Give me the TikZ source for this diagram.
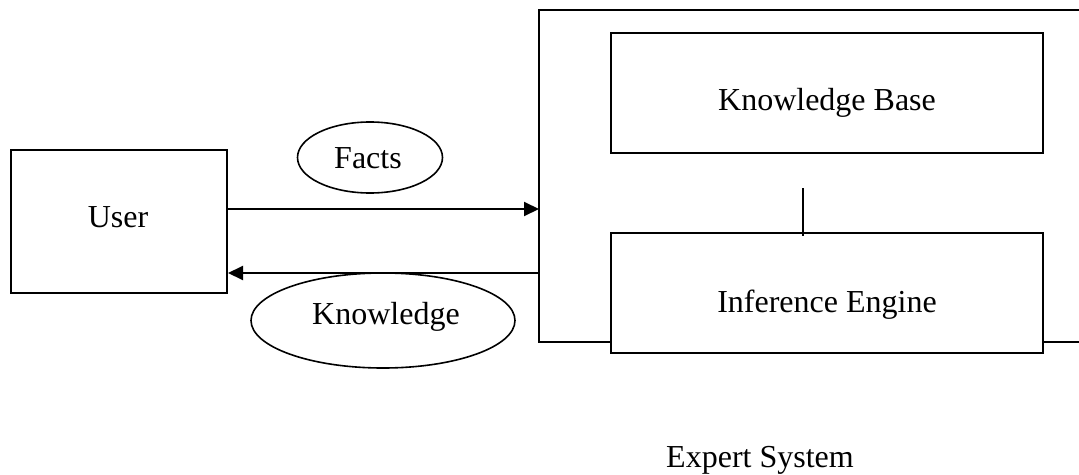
\documentclass[tikz,border=0pt]{standalone}
\usepackage{fontspec}
\setmainfont{Liberation Serif}
\usetikzlibrary{shapes.geometric,arrows.meta}
\begin{document}
\begin{tikzpicture}[x=1pt,y=-1pt,
  box/.style={draw,line width=2pt,rectangle,inner sep=0pt},
  oval/.style={draw,line width=1.6pt,ellipse,inner sep=0pt},
  txt/.style={anchor=base,inner sep=0pt,font=\fontsize{32}{38}\selectfont},
  conn/.style={line width=2pt},
  arr/.style={conn,-{Triangle[length=15pt,width=14pt]}}]
\useasboundingbox (0,0) rectangle (1079,474);
% boxes
\node[box,minimum width=216pt,minimum height=143pt] (userbox) at (119,221.5) {};
\node[box,minimum width=432pt,minimum height=120pt] (kbbox) at (827,93) {};
\node[box,minimum width=432pt,minimum height=120pt] (iebox) at (827,293) {};
% ellipses
\node[oval,minimum width=145pt,minimum height=71pt] (facts) at (370,157.5) {};
\node[oval,minimum width=264pt,minimum height=95pt] (know) at (383,320.5) {};
% texts
\node[txt] (usertxt) at (118,227) {User};
\node[txt] (kbtxt) at (827,110) {Knowledge Base};
\node[txt] (ietxt) at (827,312) {Inference Engine};
\node[txt] (factstxt) at (368,168) {Facts};
\node[txt] (knowtxt) at (386,324) {Knowledge};
\node[txt] (estxt) at (760,467) {Expert System};
% expert system frame
\coordinate (tr) at (1079,9.5);
\coordinate (tl) at (539,9.5);
\coordinate (bl) at (539,342);
\coordinate (br) at (1079,342);
\draw[conn] (tr) -- (tl) -- (bl) -- (iebox.west |- bl);
\draw[conn] (iebox.east |- br) -- (br);
% arrows
\coordinate (fin) at (539,209);
\coordinate (kout) at (539,273);
\draw[arr] (userbox.east |- fin) -- (fin);
\draw[arr] (kout) -- (userbox.east |- kout);
% link between KB and IE
\coordinate (lk) at (803,188);
\draw[conn] (lk) -- (lk |- 0,236);
\end{tikzpicture}
\end{document}
